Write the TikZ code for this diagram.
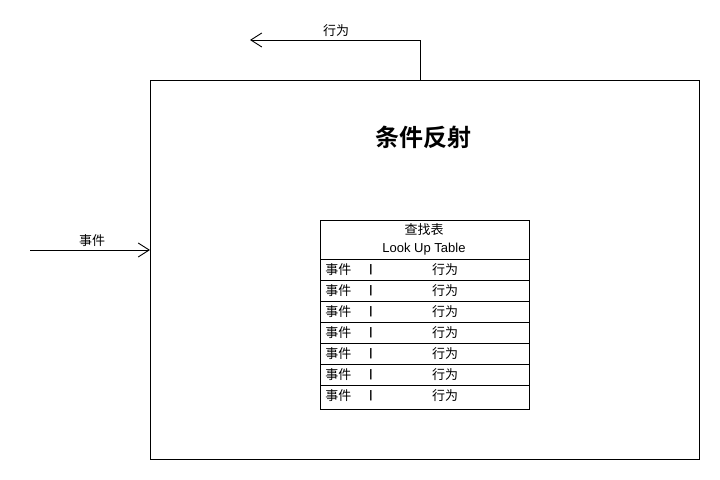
\documentclass[tikz,border=0pt]{standalone}
\usepackage{fontspec}
\setmainfont{Liberation Sans}
\newfontfamily\cjk{Noto Sans CJK SC}
\newfontfamily\cjkbold{Noto Sans CJK SC}[BoldFont={* Bold}]
\usetikzlibrary{arrows.meta}
\begin{document}
\begin{tikzpicture}[x=1bp,y=-1bp,
  line width=0.9bp,
  barb/.style={-{Straight Barb[length=11bp,width=14bp,line width=0.9bp]}},
  lbl/.style={inner sep=0pt,font=\fontsize{13bp}{15bp}\selectfont\cjk},
  cell/.style={draw,minimum width=209bp,minimum height=21bp,inner sep=0pt,anchor=north west}
]
\useasboundingbox (0,0) rectangle (720,480);

% outer module
\node[draw,minimum width=549bp,minimum height=379bp,inner sep=0pt,anchor=north west] (sys) at (150,80) {};
\node[inner sep=0pt,font=\fontsize{24bp}{28bp}\selectfont\cjkbold\bfseries] (title) at (423,137) {条件反射};

% input event
\coordinate (in) at (30,250);
\coordinate (inEnd) at (150,250);
\draw[barb] (in) -- (inEnd);
\node[lbl] (inLbl) at (92,241) {事件};

% output behaviour
\coordinate (outStart) at (420,80);
\coordinate (outEnd) at (250,40);
\draw[barb] (outStart) |- (outEnd);
\node[lbl] (outLbl) at (336,31) {行为};

% look-up table
\node[cell,minimum height=39bp] (head) at (320,220) {};
\node[lbl] (headCn) at (424,230) {查找表};
\node[inner sep=0pt,font=\fontsize{13bp}{15bp}\selectfont] (headEn) at (424,249) {Look Up Table};
\foreach \i/\y/\h in {1/259/21,2/280/21,3/301/21,4/322/21,5/343/21,6/364/21,7/385/24}{
  \node[cell,minimum height=\h bp] (row\i) at (320,\y) {};
  \node[lbl,anchor=west] (ev\i) at (325,\y+11) {事件};
  \node[inner sep=0pt,font=\fontsize{11bp}{13bp}\selectfont\bfseries] (sep\i) at (371,\y+11) {|};
  \node[lbl] (act\i) at (445,\y+11) {行为};
}
\end{tikzpicture}
\end{document}
